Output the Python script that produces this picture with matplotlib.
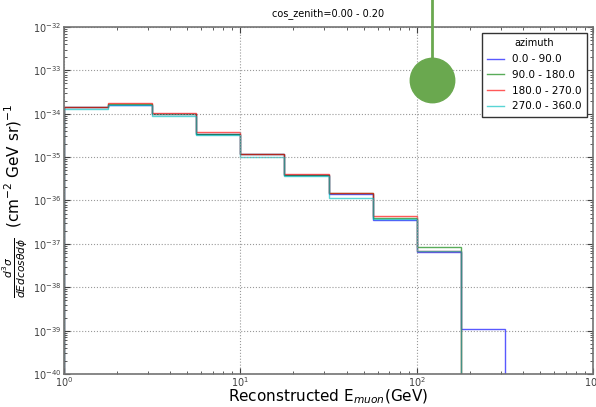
import numpy as np
import matplotlib
matplotlib.use('Agg')
import matplotlib.pyplot as plt

# quarter-decade energy bins (GeV)
edges = [1.0, 1.778, 3.162, 5.623, 10.0, 17.78, 31.62, 56.23, 100.0, 177.8, 316.2]

labels = ['0.0 - 90.0', '90.0 - 180.0', '180.0 - 270.0', '270.0 - 360.0']
colors = ['b', 'g', 'r', 'c']

az_0_90 = [1.45e-34, 1.6e-34, 1.0e-34, 3.4e-35, 1.15e-35, 3.9e-36, 1.38e-36, 3.6e-37, 6.6e-38, 1.07e-39]
az_90_180 = [1.4e-34, 1.7e-34, 1.0e-34, 3.5e-35, 1.17e-35, 3.9e-36, 1.45e-36, 4.0e-37, 8.3e-38, 0.0]
az_180_270 = [1.45e-34, 1.8e-34, 1.02e-34, 3.7e-35, 1.2e-35, 4.0e-36, 1.48e-36, 4.3e-37, 7.0e-38, 0.0]
az_270_360 = [1.3e-34, 1.55e-34, 0.9e-34, 3.2e-35, 1.02e-35, 3.7e-36, 1.15e-36, 3.7e-37, 7.0e-38, 0.0]
series = [az_0_90, az_90_180, az_180_270, az_270_360]

fig = plt.figure(figsize=(5.96, 4.07), dpi=100)
ax = fig.add_axes([0.1074, 0.0811, 0.8876, 0.8526])
ax.set_xscale('log')
ax.set_yscale('log')

for vals, c, lab in zip(series, colors, labels):
    v = np.where(np.array(vals) > 0, vals, 1e-50)
    ax.stairs(v, edges, baseline=1e-50, color=c, alpha=0.65, lw=1.0, label=lab)

# marker sitting above the spectrum
ax.plot([121.6, 121.6], [6e-34, 1e-31], color='#6aa84f', lw=2, clip_on=False, zorder=5)
ax.plot([121.6], [6e-34], 'o', color='#6aa84f', ms=32, clip_on=False, zorder=5)

ax.set_xlim(1, 1000)
ax.set_ylim(1e-40, 1e-32)
ax.grid(True, which='major', color='0.6', linestyle=':', lw=0.8)
ax.tick_params(which='both', direction='in', top=True, right=True, labelsize=7,
               colors='0.25', pad=2)
ax.tick_params(axis='x', pad=1)
ax.tick_params(which='major', length=4)
ax.tick_params(which='minor', length=2)
for s in ax.spines.values():
    s.set_color('0.45')
    s.set_linewidth(1.2)

ax.set_title('cos_zenith=0.00 - 0.20', fontsize=7, pad=8)
ax.set_xlabel(r'Reconstructed E$_{muon}$(GeV)', fontsize=11, labelpad=-1)
ax.set_ylabel(r'$\frac{d^3\sigma}{dEdcos\theta d\phi}$  (cm$^{-2}$ GeV sr)$^{-1}$',
              fontsize=11, labelpad=2)

leg = ax.legend(loc='upper right', title='azimuth', fontsize=7.5, title_fontsize=7,
                fancybox=False, framealpha=1, edgecolor='0.2', handlelength=1.6,
                borderpad=0.5, labelspacing=0.55, borderaxespad=0.6)
leg.get_frame().set_linewidth(1.0)

fig.savefig('out.png', dpi=100)
